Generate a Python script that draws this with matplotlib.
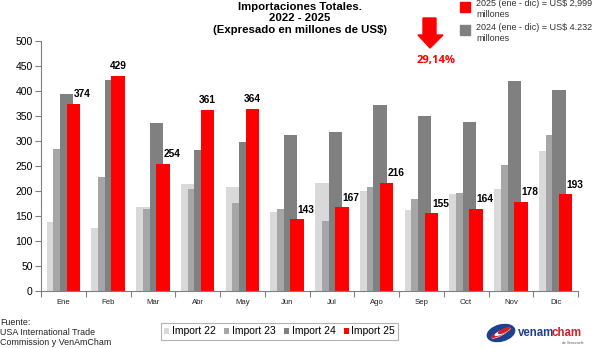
import matplotlib
matplotlib.use("Agg")
import matplotlib.pyplot as plt
import numpy as np
from matplotlib.patches import Rectangle, Polygon, Ellipse, Patch

plt.rcParams['font.family'] = ['Liberation Sans', 'DejaVu Sans']

months = ["Ene", "Feb", "Mar", "Abr", "May", "Jun", "Jul", "Ago", "Sep", "Oct", "Nov", "Dic"]
import22 = [137, 125, 167, 213, 207, 157, 215, 200, 162, 194, 204, 279]
import23 = [284, 227, 164, 203, 175, 164, 139, 207, 184, 195, 251, 311]
import24 = [393, 422, 335, 281, 297, 312, 317, 371, 350, 338, 419, 402]
import25 = [374, 429, 254, 361, 364, 143, 167, 216, 155, 164, 178, 193]
series_names = ["Import 22", "Import 23", "Import 24", "Import 25"]
colors = ["#D9D9D9", "#A6A6A6", "#808080", "#FF0000"]

W, H = 593, 348
fig = plt.figure(figsize=(W / 100, H / 100), dpi=100)

def fx(x):
    return x / W

def fy(y):
    return 1 - y / H

ax = fig.add_axes([fx(41), fy(291), fx(578) - fx(41), fy(40.7) - fy(291)])

x = np.arange(len(months))
width = 0.30
offsets = [-0.225, -0.075, 0.075, 0.225]
for vals, off, c in zip([import22, import23, import24, import25], offsets, colors):
    ax.bar(x + off, vals, width=width, color=c, linewidth=0)

for i, (v25, v24) in enumerate(zip(import25, import24)):
    dx = 6.5 if v25 < v24 else 0
    ax.annotate(str(v25), xy=(x[i] + offsets[3], v25), xytext=(dx, 3.5),
                textcoords="offset points", ha="center", va="bottom",
                fontsize=7.3, fontweight="bold", color="black")

ax.set_xlim(-0.5, len(months) - 0.5)
ax.set_ylim(0, 500)
ax.set_yticks(np.arange(0, 501, 50))
ax.set_xticks(x)
ax.set_xticklabels(months, fontsize=5.6, color="#222222")
ax.set_xticks(np.arange(-0.5, len(months), 1), minor=True)
ax.tick_params(axis="x", which="major", length=0, pad=6)
ax.tick_params(axis="x", which="minor", length=4, color="#808080", width=0.8)
ax.tick_params(axis="y", length=4, color="#808080", width=0.8, labelsize=7.5, pad=2)
for s in ["top", "right"]:
    ax.spines[s].set_visible(False)
for s in ["left", "bottom"]:
    ax.spines[s].set_color("#808080")
    ax.spines[s].set_linewidth(0.8)

# Title
fig.text(fx(300), fy(1.5), "Importaciones Totales.\n2022 - 2025\n(Expresado en millones de US$)",
         ha="center", va="top", fontsize=8.2, fontweight="bold", linespacing=1.2)

# Top-right legend
fig.patches.append(Rectangle((fx(460), fy(12)), fx(10), 10 / H, transform=fig.transFigure,
                             color="#FF0000", zorder=5))
fig.patches.append(Rectangle((fx(460), fy(35)), fx(10), 10 / H, transform=fig.transFigure,
                             color="#808080", zorder=5))
fig.text(fx(476), fy(9), "2025 (ene - dic) = US$ 2,999\nmillones", ha="left", va="center",
         fontsize=6.5, color="#333333", linespacing=1.15)
fig.text(fx(476), fy(33), "2024 (ene - dic) = US$ 4.232\nmillones", ha="left", va="center",
         fontsize=6.5, color="#333333", linespacing=1.15)

# Down arrow
arrow_px = [(423, 18), (436, 18), (436, 35), (443, 35), (430, 48), (418, 35), (423, 35)]
fig.patches.append(Polygon([(fx(a), fy(b)) for a, b in arrow_px], closed=True,
                           transform=fig.transFigure, color="#FF0000", zorder=5))
fig.text(fx(436), fy(60), "29,14%", ha="center", va="center", fontsize=8,
         fontweight="bold", color="#FF0000", family=["Open Sans", "DejaVu Sans"])

# Source
fig.text(fx(0), fy(318), "Fuente:\nUSA International Trade\nCommission y VenAmCham",
         ha="left", va="top", fontsize=6.4, linespacing=1.15, color="#222222")

# Bottom legend
handles = [Patch(facecolor=c, edgecolor="none") for c in colors]
leg = fig.legend(handles, series_names, loc="center", bbox_to_anchor=(fx(279.5), fy(331.5)),
                 ncol=4, fontsize=7.5, frameon=True, fancybox=False, edgecolor="#A0A0A0",
                 handlelength=0.5, handleheight=0.5, handletextpad=0.25, columnspacing=0.8,
                 borderpad=0.3)
leg.get_frame().set_linewidth(0.8)

# Logo
lax = fig.add_axes([fx(486), fy(343), fx(30), 20 / H])
lax.set_xlim(0, 30)
lax.set_ylim(0, 20)
lax.axis("off")
lax.add_patch(Ellipse((15, 10), 28, 16, angle=15, color="#1F3F8F"))
for k, c in enumerate(["#D0202E", "white", "#D0202E", "white", "#D0202E"]):
    lax.add_patch(Ellipse((15 + (k - 2) * 1.5, 10 + (k - 2) * 1.2), 20 - abs(k - 2) * 4, 3,
                          angle=25, color=c))
logo_v = fig.text(fx(518), fy(333), "venam", ha="left", va="center", fontsize=8.3,
                  fontweight="bold", color="#1F3F8F")
fig.canvas.draw()
bb = logo_v.get_window_extent()
fig.text((bb.x1 - 2.5) / W, fy(333), "cham", ha="left", va="center", fontsize=8.3,
         fontweight="bold", color="#D0202E")
fig.text(fx(583), fy(343), "de Venezuela", ha="right", va="center", fontsize=2.5,
         color="#555555")

fig.savefig("out.png", dpi=100)
